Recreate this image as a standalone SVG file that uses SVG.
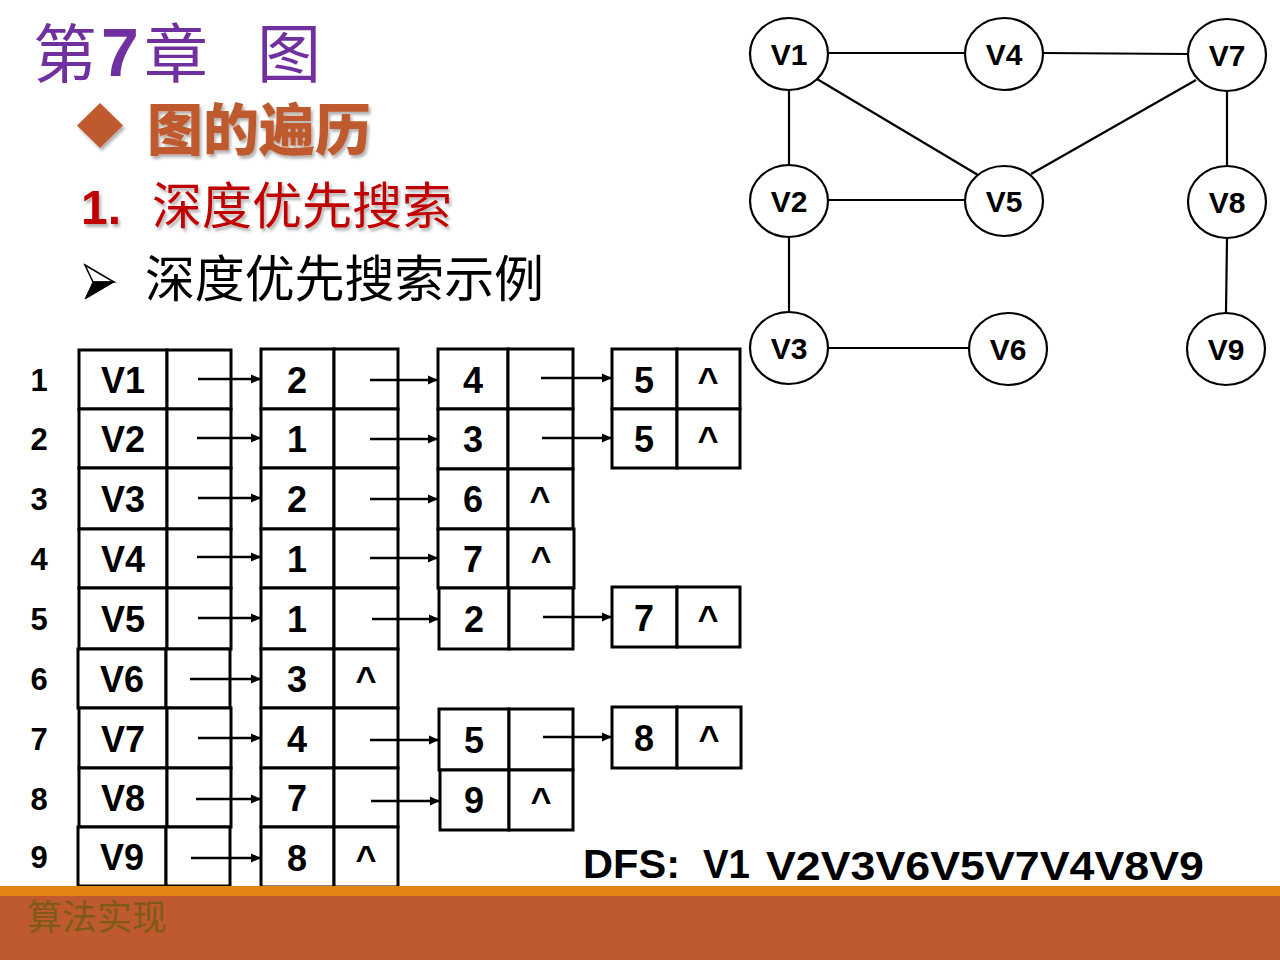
<svg xmlns="http://www.w3.org/2000/svg" width="1280" height="960" viewBox="0 0 1280 960">
<style>
.cell{fill:#fff;stroke:#000;stroke-width:3}
.tx{font-family:"Liberation Sans",Arial,sans-serif;font-weight:bold;font-size:36px;fill:#000;text-anchor:middle}
.idx{font-family:"Liberation Sans",Arial,sans-serif;font-weight:bold;font-size:31px;fill:#000;text-anchor:middle}
.arr{stroke:#000;stroke-width:2.5;fill:none;marker-end:url(#ah)}
.edge{stroke:#000;stroke-width:2.2;fill:none}
.vx{fill:#fff;stroke:#000;stroke-width:2.2}
.vt{font-family:"Liberation Sans",Arial,sans-serif;font-weight:bold;font-size:30px;fill:#000;text-anchor:middle}
.cjk{font-family:"Noto Sans CJK SC",sans-serif}
</style>
<defs>
<marker id="ah" markerUnits="userSpaceOnUse" markerWidth="10" markerHeight="10" refX="10" refY="5" orient="auto">
<path d="M0,0.5 L10,5 L0,9.5 z" fill="#000"/>
</marker>
<filter id="sh" x="-10%" y="-10%" width="130%" height="140%">
<feDropShadow dx="2" dy="3" stdDeviation="1.5" flood-color="#000" flood-opacity="0.3"/>
</filter>
</defs>
<rect width="1280" height="960" fill="#fff"/>

<!-- Title -->
<g id="title">
<text x="33" y="77" class="cjk" font-size="64" fill="#7030A0">第</text>
<text x="101" y="76" font-family="'Liberation Sans',Arial,sans-serif" font-weight="bold" font-size="68" fill="#7030A0">7</text>
<text x="144" y="77" class="cjk" font-size="64" fill="#7030A0">章</text>
<text x="257" y="77" class="cjk" font-size="64" fill="#7030A0">图</text>
</g>

<g id="subtitle" filter="url(#sh)">
<polygon points="100,103 123,125.5 100,148 77,125.5" fill="#BE5A2D"/>
<text x="147" y="150" class="cjk" font-size="56" font-weight="900" fill="#BE5A2D">图的遍历</text>
</g>

<g id="heading" filter="url(#sh)">
<text x="81" y="224" font-family="'Liberation Sans',Arial,sans-serif" font-weight="bold" font-size="48" fill="#C00000">1.</text>
<text x="152" y="224" class="cjk" font-size="50" fill="#C00000" textLength="300">深度优先搜索</text>
</g>

<g id="example">
<polygon points="85,265 114,282 93,282" fill="#fff" stroke="#000" stroke-width="1.5"/>
<polygon points="93,282 114,282 85,299" fill="#000" stroke="#000" stroke-width="1"/>
<text x="145" y="297" class="cjk" font-size="50" fill="#000" textLength="399">深度优先搜索示例</text>
</g>

<!-- Adjacency list -->
<g id="row1">
<text x="39" y="391" class="idx">1</text>
<rect x="79" y="350" width="88" height="59" class="cell"/><rect x="167" y="350" width="64" height="59" class="cell"/>
<text x="123" y="393" class="tx">V1</text>
<rect x="261" y="349" width="73" height="60" class="cell"/><rect x="334" y="349" width="64" height="60" class="cell"/>
<text x="297" y="393" class="tx">2</text>
<rect x="438" y="349" width="70" height="60" class="cell"/><rect x="508" y="349" width="65" height="60" class="cell"/>
<text x="473" y="393" class="tx">4</text>
<rect x="612" y="349" width="65" height="60" class="cell"/><rect x="677" y="349" width="63" height="60" class="cell"/>
<text x="644" y="393" class="tx">5</text><text x="708" y="393" class="tx">^</text>
</g>
<g id="row2">
<text x="39" y="450" class="idx">2</text>
<rect x="79" y="409" width="88" height="59" class="cell"/><rect x="167" y="409" width="64" height="59" class="cell"/>
<text x="123" y="452" class="tx">V2</text>
<rect x="261" y="409" width="73" height="59" class="cell"/><rect x="334" y="409" width="64" height="59" class="cell"/>
<text x="297" y="452" class="tx">1</text>
<rect x="438" y="409" width="70" height="60" class="cell"/><rect x="508" y="409" width="65" height="60" class="cell"/>
<text x="473" y="452" class="tx">3</text>
<rect x="612" y="409" width="65" height="59" class="cell"/><rect x="677" y="409" width="63" height="59" class="cell"/>
<text x="644" y="452" class="tx">5</text><text x="708" y="452" class="tx">^</text>
</g>
<g id="row3">
<text x="39" y="510" class="idx">3</text>
<rect x="79" y="468" width="88" height="61" class="cell"/><rect x="167" y="468" width="64" height="61" class="cell"/>
<text x="123" y="512" class="tx">V3</text>
<rect x="261" y="468" width="73" height="61" class="cell"/><rect x="334" y="468" width="64" height="61" class="cell"/>
<text x="297" y="512" class="tx">2</text>
<rect x="438" y="469" width="70" height="60" class="cell"/><rect x="508" y="469" width="65" height="60" class="cell"/>
<text x="473" y="512" class="tx">6</text><text x="540" y="512" class="tx">^</text>
</g>
<g id="row4">
<text x="39" y="570" class="idx">4</text>
<rect x="79" y="529" width="88" height="59" class="cell"/><rect x="167" y="529" width="64" height="59" class="cell"/>
<text x="123" y="572" class="tx">V4</text>
<rect x="261" y="529" width="73" height="59" class="cell"/><rect x="334" y="529" width="64" height="59" class="cell"/>
<text x="297" y="572" class="tx">1</text>
<rect x="438" y="529" width="70" height="59" class="cell"/><rect x="508" y="529" width="66" height="59" class="cell"/>
<text x="473" y="572" class="tx">7</text><text x="541" y="572" class="tx">^</text>
</g>
<g id="row5">
<text x="39" y="630" class="idx">5</text>
<rect x="79" y="588" width="88" height="61" class="cell"/><rect x="167" y="588" width="64" height="61" class="cell"/>
<text x="123" y="632" class="tx">V5</text>
<rect x="261" y="588" width="73" height="61" class="cell"/><rect x="334" y="588" width="64" height="61" class="cell"/>
<text x="297" y="632" class="tx">1</text>
<rect x="439" y="588" width="70" height="61" class="cell"/><rect x="509" y="588" width="64" height="61" class="cell"/>
<text x="474" y="632" class="tx">2</text>
<rect x="612" y="587" width="65" height="60" class="cell"/><rect x="677" y="587" width="63" height="60" class="cell"/>
<text x="644" y="631" class="tx">7</text><text x="708" y="631" class="tx">^</text>
</g>
<g id="row6">
<text x="39" y="690" class="idx">6</text>
<rect x="78" y="649" width="88" height="59" class="cell"/><rect x="166" y="649" width="64" height="59" class="cell"/>
<text x="122" y="692" class="tx">V6</text>
<rect x="261" y="649" width="73" height="59" class="cell"/><rect x="334" y="649" width="64" height="59" class="cell"/>
<text x="297" y="692" class="tx">3</text><text x="366" y="692" class="tx">^</text>
</g>
<g id="row7">
<text x="39" y="750" class="idx">7</text>
<rect x="79" y="708" width="88" height="60" class="cell"/><rect x="167" y="708" width="64" height="60" class="cell"/>
<text x="123" y="752" class="tx">V7</text>
<rect x="261" y="708" width="73" height="60" class="cell"/><rect x="334" y="708" width="64" height="60" class="cell"/>
<text x="297" y="752" class="tx">4</text>
<rect x="439" y="709" width="70" height="61" class="cell"/><rect x="509" y="709" width="64" height="61" class="cell"/>
<text x="474" y="753" class="tx">5</text>
<rect x="612" y="707" width="65" height="61" class="cell"/><rect x="677" y="707" width="64" height="61" class="cell"/>
<text x="644" y="751" class="tx">8</text><text x="709" y="751" class="tx">^</text>
</g>
<g id="row8">
<text x="39" y="810" class="idx">8</text>
<rect x="79" y="768" width="88" height="59" class="cell"/><rect x="167" y="768" width="64" height="59" class="cell"/>
<text x="123" y="811" class="tx">V8</text>
<rect x="261" y="768" width="73" height="59" class="cell"/><rect x="334" y="768" width="64" height="59" class="cell"/>
<text x="297" y="811" class="tx">7</text>
<rect x="440" y="770" width="69" height="60" class="cell"/><rect x="509" y="770" width="64" height="60" class="cell"/>
<text x="474" y="813" class="tx">9</text><text x="541" y="813" class="tx">^</text>
</g>
<g id="row9">
<text x="39" y="868" class="idx">9</text>
<rect x="78" y="827" width="88" height="59" class="cell"/><rect x="166" y="827" width="64" height="59" class="cell"/>
<text x="122" y="870" class="tx">V9</text>
<rect x="261" y="827" width="73" height="60" class="cell"/><rect x="334" y="827" width="64" height="60" class="cell"/>
<text x="297" y="871" class="tx">8</text><text x="366" y="871" class="tx">^</text>
</g>

<g id="list-arrows">
<line x1="198" y1="379" x2="261" y2="379" class="arr"/>
<line x1="370" y1="380" x2="438" y2="380" class="arr"/>
<line x1="541" y1="378" x2="612" y2="378" class="arr"/>
<line x1="197" y1="438" x2="261" y2="438" class="arr"/>
<line x1="370" y1="439" x2="438" y2="439" class="arr"/>
<line x1="542" y1="438" x2="612" y2="438" class="arr"/>
<line x1="198" y1="498" x2="261" y2="498" class="arr"/>
<line x1="370" y1="499" x2="438" y2="499" class="arr"/>
<line x1="197" y1="557" x2="261" y2="557" class="arr"/>
<line x1="370" y1="558" x2="438" y2="558" class="arr"/>
<line x1="198" y1="618" x2="261" y2="618" class="arr"/>
<line x1="372" y1="619" x2="439" y2="619" class="arr"/>
<line x1="543" y1="617" x2="612" y2="617" class="arr"/>
<line x1="190" y1="679" x2="261" y2="679" class="arr"/>
<line x1="198" y1="738" x2="261" y2="738" class="arr"/>
<line x1="370" y1="740" x2="439" y2="740" class="arr"/>
<line x1="543" y1="737" x2="612" y2="737" class="arr"/>
<line x1="196" y1="799" x2="261" y2="799" class="arr"/>
<line x1="371" y1="801" x2="440" y2="801" class="arr"/>
<line x1="191" y1="858" x2="261" y2="858" class="arr"/>
</g>

<!-- Graph -->
<g id="edges">
<line x1="828" y1="53" x2="965" y2="53" class="edge"/>
<line x1="1043" y1="53" x2="1188" y2="54" class="edge"/>
<line x1="789" y1="90" x2="789" y2="165" class="edge"/>
<line x1="817" y1="79" x2="978" y2="175" class="edge"/>
<line x1="1196" y1="80" x2="1031" y2="174" class="edge"/>
<line x1="828" y1="200" x2="965" y2="200" class="edge"/>
<line x1="789" y1="237" x2="789" y2="312" class="edge"/>
<line x1="828" y1="348" x2="970" y2="348" class="edge"/>
<line x1="1227" y1="90" x2="1227" y2="166" class="edge"/>
<line x1="1227" y1="238" x2="1226" y2="313" class="edge"/>
</g>
<g id="V1"><ellipse cx="789" cy="54" rx="39" ry="36" class="vx"/><text x="789" y="65" class="vt">V1</text></g>
<g id="V4"><ellipse cx="1004" cy="54" rx="39" ry="36" class="vx"/><text x="1004" y="65" class="vt">V4</text></g>
<g id="V7"><ellipse cx="1227" cy="55" rx="39" ry="36" class="vx"/><text x="1227" y="66" class="vt">V7</text></g>
<g id="V2"><ellipse cx="789" cy="201" rx="39" ry="36" class="vx"/><text x="789" y="212" class="vt">V2</text></g>
<g id="V5"><ellipse cx="1004" cy="201" rx="39" ry="35" class="vx"/><text x="1004" y="212" class="vt">V5</text></g>
<g id="V8"><ellipse cx="1227" cy="202" rx="39" ry="36" class="vx"/><text x="1227" y="213" class="vt">V8</text></g>
<g id="V3"><ellipse cx="789" cy="348" rx="39" ry="36" class="vx"/><text x="789" y="359" class="vt">V3</text></g>
<g id="V6"><ellipse cx="1008" cy="349" rx="39" ry="36" class="vx"/><text x="1008" y="360" class="vt">V6</text></g>
<g id="V9"><ellipse cx="1226" cy="349" rx="39" ry="36" class="vx"/><text x="1226" y="360" class="vt">V9</text></g>

<g id="dfs" font-family="'Liberation Sans',Arial,sans-serif" font-weight="bold" font-size="40" fill="#000">
<text x="583" y="878" textLength="97" lengthAdjust="spacingAndGlyphs">DFS:</text>
<text x="703" y="878" textLength="47" lengthAdjust="spacingAndGlyphs">V1</text>
<text x="766" y="880" textLength="438" lengthAdjust="spacingAndGlyphs">V2V3V6V5V7V4V8V9</text>
</g>

<!-- Footer -->
<g id="footer">
<rect x="0" y="886" width="1280" height="10" fill="#E38415"/>
<rect x="0" y="896" width="1280" height="64" fill="#BE5A2D"/>
<text x="27" y="930" class="cjk" font-size="35" fill="#7F5A17">算法实现</text>
</g>
</svg>
